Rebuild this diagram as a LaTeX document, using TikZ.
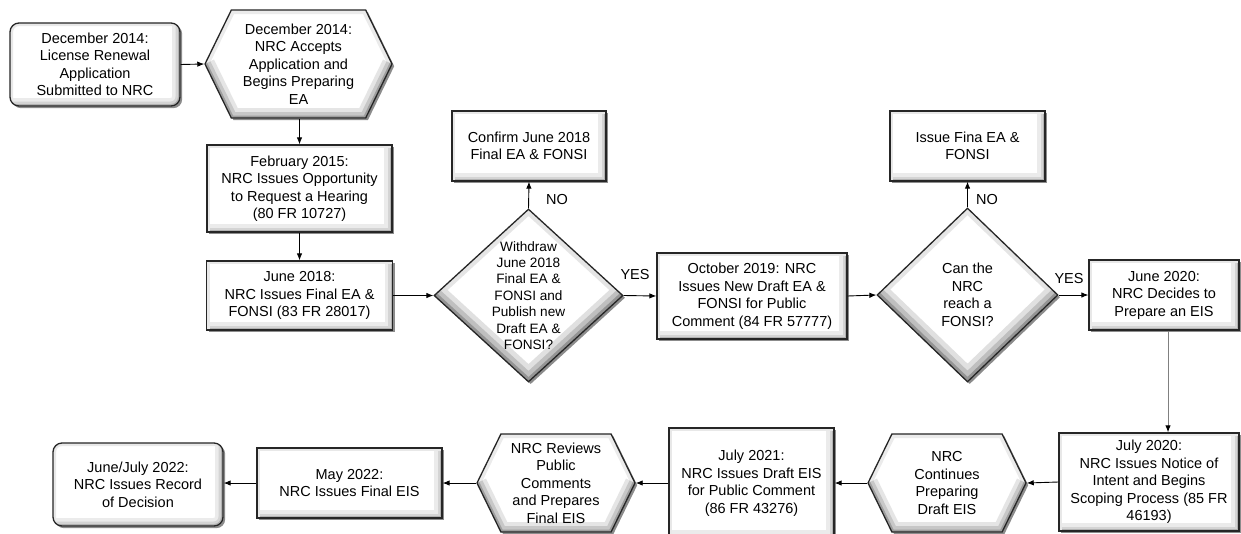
\documentclass[tikz,border=0pt]{standalone}
\usepackage{fontspec}
\setmainfont{Liberation Sans}
\usetikzlibrary{shapes.geometric,shapes.symbols,shadows,arrows.meta}
\begin{document}
\begin{tikzpicture}[x=1pt,y=-1pt,
  every node/.style={font=\fontsize{14.5}{17.5}\selectfont, align=center, inner sep=2pt},
  shad/.style={drop shadow={shadow xshift=2.2pt, shadow yshift=-2.2pt, fill=black!45, opacity=1}},
  bevR/.style={path picture={
    \draw[black!8, line width=16pt] (path picture bounding box.south west) -- (path picture bounding box.south east) -- (path picture bounding box.north east);
    \draw[black!17, line width=9pt] (path picture bounding box.south west) -- (path picture bounding box.south east) -- (path picture bounding box.north east);
    \draw[black!30, line width=4pt] (path picture bounding box.south west) -- (path picture bounding box.south east) -- (path picture bounding box.north east);
    \draw[black!9, line width=6pt] (path picture bounding box.south west) -- (path picture bounding box.north west) -- (path picture bounding box.north east);
  }},
  bevD/.style={path picture={
    \draw[black!10, line width=10pt] (path picture bounding box.west) -- (path picture bounding box.north) -- (path picture bounding box.east);
    \draw[black!12, line width=26pt] (path picture bounding box.west) -- (path picture bounding box.south) -- (path picture bounding box.east);
    \draw[black!25, line width=16pt] (path picture bounding box.west) -- (path picture bounding box.south) -- (path picture bounding box.east);
    \draw[black!42, line width=7pt] (path picture bounding box.west) -- (path picture bounding box.south) -- (path picture bounding box.east);
  }},
  bevH/.style={path picture={
    \draw[black!8, line width=8pt] (path picture bounding box.west) -- ([xshift=#1]path picture bounding box.north west) -- ([xshift=-#1]path picture bounding box.north east) -- (path picture bounding box.east);
    \draw[black!10, line width=20pt] (path picture bounding box.west) -- ([xshift=#1]path picture bounding box.south west) -- ([xshift=-#1]path picture bounding box.south east) -- (path picture bounding box.east);
    \draw[black!22, line width=12pt] (path picture bounding box.west) -- ([xshift=#1]path picture bounding box.south west) -- ([xshift=-#1]path picture bounding box.south east) -- (path picture bounding box.east);
    \draw[black!38, line width=5pt] (path picture bounding box.west) -- ([xshift=#1]path picture bounding box.south west) -- ([xshift=-#1]path picture bounding box.south east) -- (path picture bounding box.east);
  }},
  rbox/.style={rectangle, draw=black!85, line width=1.3pt, fill=white, shad, bevR},
  rrbox/.style={rectangle, rounded corners=9pt, draw=black!85, line width=1.3pt, fill=white, shad, bevR},
  hexa/.style={signal, signal to=west and east, signal pointer angle=128, draw=black!85, line width=1.3pt, fill=white, shad, bevH=#1},
  dia/.style={diamond, inner sep=0pt, draw=black!85, line width=1.3pt, fill=white, shad, bevD},
  diatext/.style={font=\fontsize{13.6}{16.4}\selectfont, inner sep=0pt},
  conn/.style={-{Latex[length=7pt,width=5.5pt]}, line width=0.9pt, black},
  lbl/.style={inner sep=0pt}
]
\useasboundingbox (0,0) rectangle (1241,533);
\fill[white] (0,0) rectangle (1241,533);

% top row
\node[rrbox, minimum width=170pt, minimum height=83pt] (b1) at (95,64.5) {December 2014:\\License Renewal\\Application\\Submitted to NRC};
\node[hexa=26.5pt, minimum width=187pt, minimum height=108pt] (h1) at (298.5,64) {December 2014:\\NRC Accepts\\Application and\\Begins Preparing\\EA};
\node[rbox, minimum width=185pt, minimum height=87pt] (feb) at (299.5,188.5) {February 2015:\\NRC Issues Opportunity\\to Request a Hearing\\(80 FR 10727)};
\node[rbox, minimum width=186pt, minimum height=69pt] (jun18) at (299.5,295.5) {June 2018:\\NRC Issues Final EA \&\\FONSI (83 FR 28017)};

\node[dia, minimum width=189pt, minimum height=173pt] (d1) at (528.5,295.5) {};
\node[diatext] (d1t) at (d1.center) {Withdraw\\June 2018\\Final EA \&\\FONSI and\\Publish new\\Draft EA \&\\FONSI?};
\node[rbox, minimum width=154pt, minimum height=70pt] (conf) at (529,146) {Confirm June 2018\\Final EA \& FONSI};
\node[rbox, minimum width=190pt, minimum height=86pt] (oct) at (752,296) {October 2019: NRC\\Issues New Draft EA \&\\FONSI for Public\\Comment (84 FR 57777)};

\node[dia, minimum width=181pt, minimum height=174pt] (d2) at (967.5,295) {};
\node[diatext, font=\fontsize{14.5}{17.5}\selectfont] (d2t) at (d2.center) {Can the\\NRC\\reach a\\FONSI?};
\node[rbox, minimum width=155pt, minimum height=70pt] (fina) at (967.5,146) {Issue Fina EA \&\\FONSI};
\node[rbox, minimum width=150pt, minimum height=70pt] (jun20) at (1164,295) {June 2020:\\NRC Decides to\\Prepare an EIS};

% bottom row
\node[rbox, minimum width=180pt, minimum height=98pt] (jul20) at (1149,482) {July 2020:\\NRC Issues Notice of\\Intent and Begins\\Scoping Process (85 FR\\46193)};
\node[hexa=24pt, minimum width=158pt, minimum height=98pt] (h2) at (947,483) {NRC\\Continues\\Preparing\\Draft EIS};
\node[rbox, minimum width=165pt, minimum height=110pt] (jul21) at (751.5,483) {July 2021:\\NRC Issues Draft EIS\\for Public Comment\\(86 FR 43276)};
\node[hexa=24pt, minimum width=158pt, minimum height=98pt] (h3) at (556,483) {NRC Reviews\\Public\\Comments\\and Prepares\\Final EIS};
\node[rbox, minimum width=185pt, minimum height=70pt] (may) at (349.5,483) {May 2022:\\NRC Issues Final EIS};
\node[rrbox, minimum width=170pt, minimum height=83pt] (rec) at (138,484.5) {June/July 2022:\\NRC Issues Record\\of Decision};

% connectors
\draw[conn] (b1.east) -- (h1.west);
\draw[conn] (feb.north |- h1.south) -- (feb.north);
\draw[conn] (feb.south) -- (jun18.north);
\draw[conn] (jun18.east) -- (d1.west);
\draw[conn] (d1.north) -- (conf.south);
\draw[conn] (d1.east) -- (oct.west);
\draw[conn] (oct.east) -- (d2.west);
\draw[conn] (d2.north) -- (fina.south);
\draw[conn] (d2.east) -- (jun20.west);
\coordinate (vx) at (1168,0);
\draw[-{Latex[length=7pt,width=5.5pt,color=black]}, line width=1pt, draw=black!50] (jun20.south -| vx) -- (jul20.north -| vx);
\draw[conn] (jul20.west) -- (h2.east);
\draw[conn] (h2.west) -- (jul21.east);
\draw[conn] (jul21.west |- h3.east) -- (h3.east);
\draw[conn] (h3.west) -- (may.east);
\draw[conn] (may.west) -- (rec.east |- may.west);

% labels
\node[lbl] (no1) at (557,200) {NO};
\node[lbl] (yes1) at (635,275) {YES};
\node[lbl] (no2) at (987,200) {NO};
\node[lbl] (yes2) at (1069,279) {YES};
\end{tikzpicture}
\end{document}
